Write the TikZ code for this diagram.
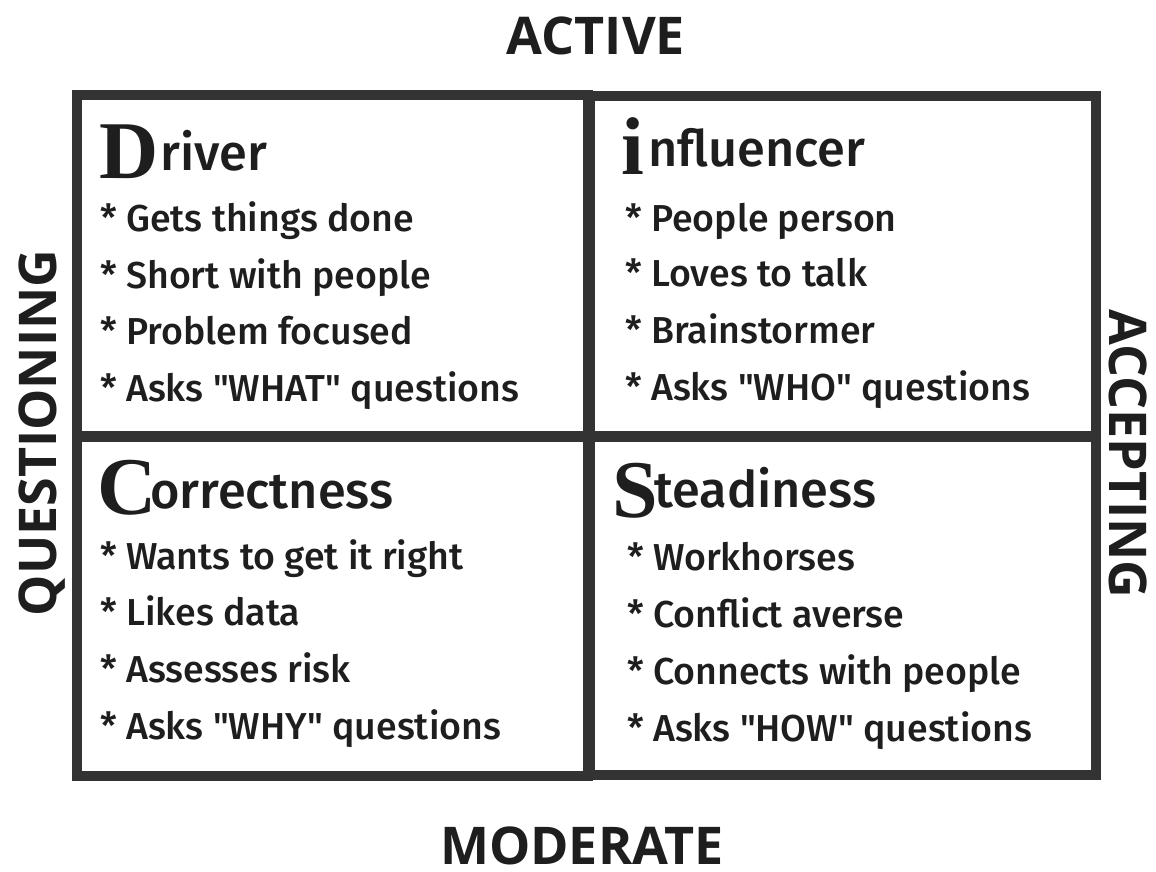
\documentclass[tikz,border=0pt]{standalone}
\usepackage{fontspec}
\newfontfamily\itemfont{Fira Sans Medium}
\newfontfamily\axisfont{Open Sans}
\newfontfamily\capfont{Liberation Serif}
\definecolor{frame}{HTML}{333333}
\definecolor{ink}{HTML}{1E1E1E}
\begin{document}
\begin{tikzpicture}[x=1pt,y=-1pt,
  quad/.style={draw=frame,line width=10pt,inner sep=0pt,outer sep=0pt},
  initial/.style={anchor=base west,inner sep=0pt,text=ink,font=\capfont\bfseries\fontsize{82}{82}\selectfont},
  title/.style={anchor=base west,inner sep=0pt,text=ink,font=\itemfont\fontsize{50.5}{52}\selectfont},
  trait/.style={anchor=base west,inner sep=0pt,text=ink,font=\itemfont\fontsize{37.5}{40}\selectfont},
  axis/.style={anchor=base,inner sep=0pt,text depth=0pt,text=ink,font=\axisfont\bfseries\fontsize{52}{56}\selectfont}]
\useasboundingbox (0,0) rectangle (1156,872);

% the four quadrants
\node[quad,minimum width=511pt,minimum height=341pt] (tl) at (332.5,265.5) {};
\node[quad,minimum width=506pt,minimum height=340pt] (tr) at (843,266) {};
\node[quad,minimum width=511pt,minimum height=339pt] (bl) at (332.5,606.5) {};
\node[quad,minimum width=506pt,minimum height=338pt] (br) at (843,606) {};

% axis labels
\node[axis] (active) at (596,55) {ACTIVE};
\node[axis] (moderate) at (582,864) {MODERATE};
\node[axis,rotate=90] (questioning) at (56,433) {QUESTIONING};
\node[axis,rotate=-90] (accepting) at (1109,454) {ACCEPTING};

% Driver
\node[initial] (dD) at (99,178) {D};
\node[title] (dT) at (160,170) {river};
\node[trait] (d1) at (100,231) {* Gets things done};
\node[trait] (d2) at (100,288) {* Short with people};
\node[trait] (d3) at (100,344) {* Problem focused};
\node[trait] (d4) at (100,401) {* Asks "WHAT" questions};

% influencer
\node[initial] (iI) at (621,175) {i};
\node[title] (iT) at (648,166) {nfluencer};
\node[trait] (i1) at (625,231) {* People person};
\node[trait] (i2) at (625,286) {* Loves to talk};
\node[trait] (i3) at (625,343) {* Brainstormer};
\node[trait] (i4) at (625,400) {* Asks "WHO" questions};

% Correctness
\node[initial] (cC) at (97,514) {C};
\node[title] (cT) at (150,508) {orrectness};
\node[trait] (c1) at (100,569) {* Wants to get it right};
\node[trait] (c2) at (100,625) {* Likes data};
\node[trait] (c3) at (100,682) {* Assesses risk};
\node[trait] (c4) at (100,739) {* Asks "WHY" questions};

% Steadiness
\node[initial] (sS) at (612,517) {S};
\node[title] (sT) at (654,507) {teadiness};
\node[trait] (s1) at (627,570) {* Workhorses};
\node[trait] (s2) at (627,627) {* Conflict averse};
\node[trait] (s3) at (627,684) {* Connects with people};
\node[trait] (s4) at (627,741) {* Asks "HOW" questions};
\end{tikzpicture}
\end{document}
